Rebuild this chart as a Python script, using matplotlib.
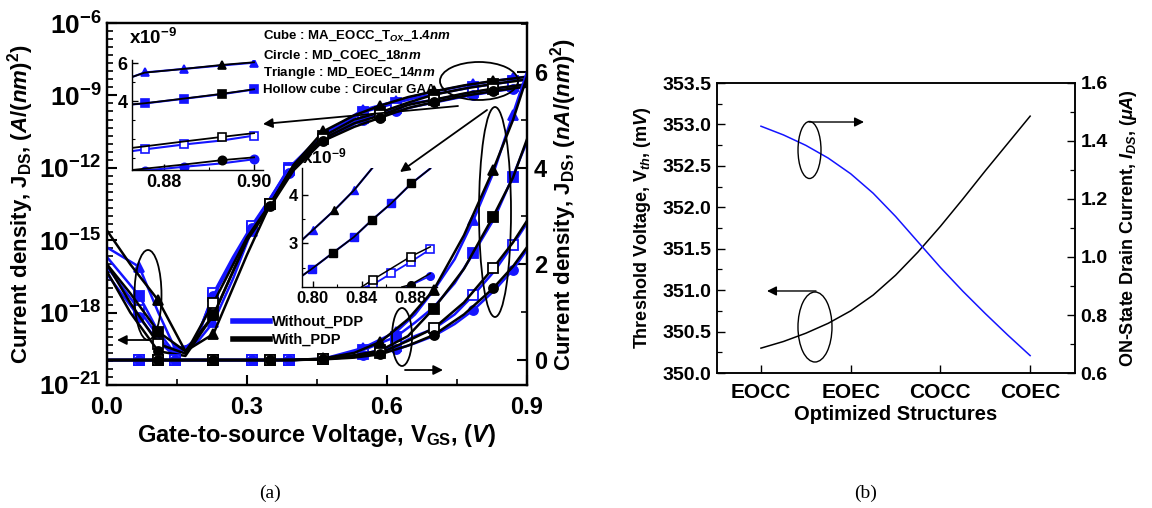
import numpy as np
import matplotlib
matplotlib.use("Agg")
import matplotlib.pyplot as plt
from matplotlib.lines import Line2D
from matplotlib.patches import Ellipse, FancyArrowPatch
from matplotlib.ticker import FixedLocator, MultipleLocator, FormatStrFormatter, NullFormatter

plt.rcParams.update({
    "font.family": "Liberation Sans",
    "font.weight": "bold",
    "axes.labelweight": "bold",
    "mathtext.fontset": "custom",
    "mathtext.rm": "Liberation Sans:bold",
    "mathtext.it": "Liberation Sans:bold:italic",
    "mathtext.bf": "Liberation Sans:bold",
    "xtick.direction": "in",
    "ytick.direction": "in",
})

BLUE = "#1414ff"

# ---------------- (a) transfer characteristics ----------------
# gate voltage grids (V)
vgs_wo = [0.0, 0.069, 0.11, 0.146, 0.19, 0.228, 0.27, 0.31, 0.39, 0.463,
          0.548, 0.62, 0.66, 0.70, 0.745, 0.785, 0.83, 0.869, 0.9]
vgs_w = [0.0, 0.05, 0.11, 0.168, 0.228, 0.30, 0.35, 0.40, 0.463,
         0.53, 0.586, 0.645, 0.70, 0.765, 0.827, 0.87, 0.9]
# voltages carrying a symbol
mark_wo = [0.069, 0.146, 0.228, 0.31, 0.39, 0.548, 0.62, 0.785, 0.869]
mark_w = [0.11, 0.228, 0.35, 0.463, 0.586, 0.70, 0.827]

# current density J_DS (A/nm^2), without PDP
j_tri_wo = [5.0e-16, 7.9e-17, 1.0e-18, 3.2e-20, 5.0e-20, 4.0e-19, 2.5e-17, 2.5e-15, 1.0e-12, 2.5e-11,
            2.5e-10, 5.9e-10, 9.5e-10, 1.45e-9, 2.1e-9, 2.91e-9, 3.95e-9, 5.1e-9, 6.0e-9]
j_cube_wo = [2.0e-16, 5.0e-18, 1.6e-19, 2.0e-20, 6.3e-20, 5.0e-18, 1.3e-16, 3.2e-15, 1.0e-12, 2.0e-11,
             2.0e-10, 4.9e-10, 7.8e-10, 1.1e-9, 1.6e-9, 2.22e-9, 2.95e-9, 3.81e-9, 4.55e-9]
j_hollow_wo = [7.9e-17, 1.3e-18, 1.0e-19, 1.6e-20, 6.3e-20, 6.3e-18, 2.0e-16, 4.0e-15, 7.9e-13, 1.6e-11,
               1.2e-10, 3.0e-10, 5.0e-10, 6.5e-10, 9.5e-10, 1.35e-9, 1.85e-9, 2.39e-9, 2.85e-9]
j_circ_wo = [4.0e-17, 6.3e-19, 6.3e-20, 1.6e-20, 7.9e-20, 5.0e-18, 1.6e-16, 3.2e-15, 6.3e-13, 1.3e-11,
             1.0e-10, 2.2e-10, 3.5e-10, 5.0e-10, 7.5e-10, 1.04e-9, 1.45e-9, 1.87e-9, 2.3e-9]

# current density J_DS (A/nm^2), with PDP
j_tri_w = [2.5e-15, 1.0e-16, 3.2e-18, 2.5e-20, 1.3e-19, 2.5e-16, 3.2e-14, 1.3e-12, 3.2e-11,
           1.5e-10, 3.8e-10, 8.5e-10, 1.46e-9, 2.6e-9, 3.95e-9, 5.0e-9, 5.9e-9]
j_cube_w = [1.0e-16, 6.3e-18, 1.6e-19, 2.5e-20, 7.9e-19, 1.0e-15, 3.2e-14, 1.3e-12, 2.0e-11,
            1.0e-10, 2.0e-10, 5.0e-10, 1.07e-9, 1.9e-9, 2.98e-9, 3.8e-9, 4.6e-9]
j_hollow_w = [1.0e-16, 2.5e-18, 5.0e-20, 2.0e-20, 2.5e-18, 1.3e-15, 3.2e-14, 1.0e-12, 1.6e-11,
              7.0e-11, 1.5e-10, 4.0e-10, 6.6e-10, 1.2e-9, 1.91e-9, 2.45e-9, 2.9e-9]
j_circ_w = [5.0e-17, 1.0e-18, 2.5e-20, 1.6e-20, 7.9e-19, 1.0e-15, 2.5e-14, 7.9e-13, 1.3e-11,
            5.0e-11, 1.2e-10, 3.0e-10, 5.2e-10, 9.5e-10, 1.49e-9, 1.95e-9, 2.35e-9]

# zoom near 0.9 V (x10^-9)
v_in1 = [0.8728, 0.8756, 0.8844, 0.8928, 0.900]
in1_tri_wo = [5.27, 5.51, 5.70, 5.88, 6.03]
in1_tri_w = [5.27, 5.50, 5.70, 5.91, 6.05]
in1_cube_wo = [3.82, 3.87, 4.12, 4.36, 4.61]
in1_cube_w = [3.82, 3.88, 4.13, 4.38, 4.62]
in1_hollow_wo = [1.35, 1.44, 1.70, 1.91, 2.17]
in1_hollow_w = [1.52, 1.60, 1.86, 2.10, 2.30]
in1_circ_wo = [0.25, 0.32, 0.52, 0.70, 0.92]
in1_circ_w = [0.35, 0.42, 0.64, 0.87, 1.02]

# zoom 0.80 - 0.90 V (x10^-9)
v_in2_tri = [0.7912, 0.8002, 0.8178, 0.8338, 0.8488]
in2_tri = [3.07, 3.28, 3.69, 4.10, 4.56]
v_in2_cube = [0.7912, 0.799, 0.8162, 0.8336, 0.8483, 0.8643, 0.8808, 0.8963]
in2_cube = [2.33, 2.47, 2.80, 3.13, 3.48, 3.83, 4.24, 4.55]
v_in2_hollow_w = [0.840, 0.8491, 0.8803, 0.8963]
in2_hollow_w = [2.10, 2.25, 2.73, 2.93]
v_in2_hollow_wo = [0.843, 0.8493, 0.8643, 0.8803, 0.8963]
in2_hollow_wo = [2.10, 2.15, 2.38, 2.62, 2.88]
v_in2_circ_w = [0.873, 0.8803, 0.8963]
in2_circ_w = [2.10, 2.15, 2.38]
v_in2_circ_wo = [0.877, 0.8963]
in2_circ_wo = [2.10, 2.33]

legend_text = ["Cube : MA_EOCC_T$_{\\mathit{OX}}$_1.4$\\mathit{nm}$",
               "Circle : MD_COEC_18$\\mathit{nm}$",
               "Triangle : MD_EOEC_14$\\mathit{nm}$",
               "Hollow cube : Circular GAA"]

# ---------------- (b) optimized structures ----------------
structures = ["EOCC", "EOEC", "COCC", "COEC"]
x_curve = [0, 0.25, 0.5, 0.75, 1.0, 1.25, 1.5, 1.75, 2.0, 2.25, 2.5, 2.75, 3.0]
vth_mv = [350.30, 350.38, 350.48, 350.60, 350.75, 350.94, 351.18, 351.46, 351.77,
          352.10, 352.44, 352.77, 353.10]
ion_ua = [1.451, 1.421, 1.385, 1.341, 1.287, 1.220, 1.140, 1.052, 0.964,
          0.882, 0.805, 0.731, 0.660]

W, H = 1152, 508
fig = plt.figure(figsize=(W / 100, H / 100), dpi=100)


def px_box(x0, y0, x1, y1):
    return [x0 / W, 1 - y1 / H, (x1 - x0) / W, (y1 - y0) / H]


ax = fig.add_axes(px_box(107, 23, 527, 385))
ax2 = ax.twinx()

groups = [
    ("^", False, j_tri_wo, j_tri_w),
    ("s", False, j_cube_wo, j_cube_w),
    ("s", True, j_hollow_wo, j_hollow_w),
    ("o", False, j_circ_wo, j_circ_w),
]
every_wo = np.isin(vgs_wo, mark_wo)
every_w = np.isin(vgs_w, mark_w)
for mk, hollow, jb, jk in groups:
    for axis, scale in ((ax, 1.0), (ax2, 1e9)):
        axis.plot(vgs_wo, np.array(jb) * scale, color=BLUE, lw=1.8, marker=mk, ms=6.5,
                  mfc="white" if hollow else BLUE, mec=BLUE, mew=1.3, markevery=every_wo)
for mk, hollow, jb, jk in groups:
    for axis, scale in ((ax, 1.0), (ax2, 1e9)):
        axis.plot(vgs_w, np.array(jk) * scale, color="black", lw=1.8, marker=mk, ms=6.5,
                  mfc="white" if hollow else "black", mec="black", mew=1.3, markevery=every_w)

ax.set_yscale("log")
ax.set_ylim(1e-21, 1e-6)
ax.set_xlim(0, 0.9)
ax.yaxis.set_major_locator(FixedLocator([10.0 ** k for k in range(-21, -5, 3)]))
ax.yaxis.set_minor_locator(FixedLocator(10.0 ** np.arange(-21, -6, 1 / 3)))
ax.yaxis.set_minor_formatter(NullFormatter())
ax.xaxis.set_major_locator(MultipleLocator(0.3))
ax.xaxis.set_minor_locator(MultipleLocator(0.15))
ax.xaxis.set_major_formatter(FormatStrFormatter("%.1f"))
ax2.set_ylim(-0.52, 7.02)
ax2.yaxis.set_major_locator(MultipleLocator(2))
ax2.yaxis.set_minor_locator(MultipleLocator(1))

for a in (ax, ax2):
    a.tick_params(which="major", length=7, width=1.5, labelsize=17, pad=5)
    a.tick_params(which="minor", length=4, width=1.2)
    for s in a.spines.values():
        s.set_linewidth(1.6)
ax.tick_params(axis="y", labelsize=19, pad=4)
ax.tick_params(axis="x", pad=8)

ax.set_xlabel("Gate-to-source Voltage, V$_{\\mathrm{GS}}$, ($\\mathit{V}$)", fontsize=17, labelpad=2)
ax.set_ylabel("Current density, J$_{\\mathrm{DS}}$, ($\\mathit{A/(nm)}^{2}$)", fontsize=16, labelpad=2)
ax2.set_ylabel("Current density, J$_{\\mathrm{DS}}$, ($\\mathit{nA/(nm)}^{2}$)", fontsize=16, labelpad=1)

for i, txt in enumerate(legend_text):
    ax.text(0.372, 0.965 - i * 0.047 - (0.008 if i else 0), txt, transform=ax.transAxes,
            fontsize=9.5, va="center", ha="left")

handles = [Line2D([], [], color=BLUE, lw=4), Line2D([], [], color="black", lw=4)]
ax.legend(handles, ["Without_PDP", "With_PDP"], loc="upper left", bbox_to_anchor=(0.285, 0.21),
          frameon=False, fontsize=10.5, handlelength=2.6, handletextpad=0.1, labelspacing=0.3,
          borderaxespad=0)

# circled groups with pointing arrows (axes fractions)
def ring(axis, cx, cy, w, h, lw=1.3):
    axis.add_patch(Ellipse((cx, cy), w, h, transform=axis.transAxes, fill=False,
                           ec="black", lw=lw, zorder=10, clip_on=False))


def pointer(axis, start, end, lw=1.3):
    axis.add_patch(FancyArrowPatch(start, end, transform=axis.transAxes, arrowstyle="-|>",
                                   mutation_scale=14, color="black", lw=lw, zorder=10,
                                   shrinkA=0, shrinkB=0, clip_on=False))


ring(ax2, 0.0976, 0.2486, 0.0643, 0.2486)
pointer(ax2, (0.1024, 0.1243), (0.0238, 0.1243))
ring(ax2, 0.8857, 0.8398, 0.1857, 0.105)
pointer(ax2, (0.8357, 0.7707), (0.3714, 0.721))
ring(ax2, 0.9238, 0.4779, 0.0762, 0.5801)
pointer(ax2, (0.9048, 0.7597), (0.6976, 0.5884))
ring(ax2, 0.7024, 0.1326, 0.0476, 0.1602)
pointer(ax2, (0.7095, 0.0414), (0.80, 0.0414))

# inset near 0.9 V
ins1 = fig.add_axes(px_box(132, 60, 263, 170), zorder=5)
ins1.patch.set_visible(False)
in1_sets = [("^", False, in1_tri_wo, in1_tri_w), ("s", False, in1_cube_wo, in1_cube_w),
            ("s", True, in1_hollow_wo, in1_hollow_w), ("o", False, in1_circ_wo, in1_circ_w)]
for mk, hollow, yb, yk in in1_sets:
    ins1.plot(v_in1, yb, color=BLUE, lw=1.5, marker=mk, ms=6, mfc="white" if hollow else BLUE,
              mec=BLUE, mew=1.2, markevery=[1, 2, 4])
    ins1.plot(v_in1, yk, color="black", lw=1.3, marker=mk, ms=6, mfc="white" if hollow else "black",
              mec="black", mew=1.2, markevery=[3])
ins1.set_xlim(0.8728, 0.902)
ins1.set_ylim(0.35, 6.17)
ins1.xaxis.set_major_locator(FixedLocator([0.88, 0.90]))
ins1.xaxis.set_minor_locator(FixedLocator([0.89]))
ins1.xaxis.set_major_formatter(FormatStrFormatter("%.2f"))
ins1.yaxis.set_major_locator(FixedLocator([4, 6]))
ins1.yaxis.set_minor_locator(FixedLocator([1, 2, 3, 5]))
ins1.text(-0.02, 1.2, "x10$^{-9}$", transform=ins1.transAxes, fontsize=13.5, ha="left", va="center")

# inset 0.80 - 0.90 V
ins2 = fig.add_axes(px_box(302, 168, 437, 287), zorder=5)
ins2.patch.set_visible(False)
ins2.plot(v_in2_tri, in2_tri, color=BLUE, lw=1.5, marker="^", ms=6, mfc=BLUE, mec=BLUE, markevery=[1, 3])
ins2.plot(v_in2_tri, in2_tri, color="black", lw=1.2, marker="^", ms=6, mfc="black", mec="black", markevery=[2])
ins2.plot(v_in2_cube, in2_cube, color=BLUE, lw=1.5, marker="s", ms=5.5, mfc=BLUE, mec=BLUE, markevery=[1, 3, 5])
ins2.plot(v_in2_cube, in2_cube, color="black", lw=1.2, marker="s", ms=5.5, mfc="black", mec="black", markevery=[2, 4, 6])
ins2.plot(v_in2_hollow_wo, in2_hollow_wo, color=BLUE, lw=1.3, marker="s", ms=5.5, mfc="white", mec=BLUE,
          mew=1.2, markevery=[1, 2, 3, 4])
ins2.plot(v_in2_hollow_w, in2_hollow_w, color="black", lw=1.1, marker="s", ms=5.5, mfc="white", mec="black",
          mew=1.2, markevery=[1, 2])
ins2.plot(v_in2_circ_wo, in2_circ_wo, color=BLUE, lw=1.3, marker="o", ms=5.5, mfc=BLUE, mec=BLUE, markevery=[1])
ins2.plot(v_in2_circ_w, in2_circ_w, color="black", lw=1.1, marker="o", ms=5.5, mfc="black", mec="black", markevery=[1])
ins2.set_xlim(0.7912, 0.9018)
ins2.set_ylim(2.10, 4.56)
ins2.xaxis.set_major_locator(FixedLocator([0.80, 0.84, 0.88]))
ins2.xaxis.set_minor_locator(FixedLocator([0.82, 0.86]))
ins2.xaxis.set_major_formatter(FormatStrFormatter("%.2f"))
ins2.yaxis.set_major_locator(FixedLocator([3, 4]))
ins2.yaxis.set_minor_locator(FixedLocator([2.5, 3.5]))
ins2.text(0.0, 1.1, "x10$^{-9}$", transform=ins2.transAxes, fontsize=12.5, ha="left", va="center")

for a, fs in ((ins1, 13), (ins2, 12)):
    a.spines["top"].set_visible(False)
    a.spines["right"].set_visible(False)
    for s in ("left", "bottom"):
        a.spines[s].set_linewidth(1.0)
    a.tick_params(which="major", length=4, width=1.0, labelsize=fs, pad=3)
    a.tick_params(which="minor", length=2.5, width=0.8)

# ---------------- panel (b) ----------------
axb = fig.add_axes(px_box(717, 83, 1075, 373))
axb2 = axb.twinx()
axb.plot(x_curve, vth_mv, color="black", lw=1.1)
axb2.plot(x_curve, ion_ua, color=BLUE, lw=1.1)
axb.set_xlim(-0.49, 3.5)
axb.set_ylim(350.0, 353.5)
axb2.set_ylim(0.6, 1.6)
axb.set_xticks(range(len(structures)))
axb.set_xticklabels(structures)
axb.yaxis.set_major_locator(MultipleLocator(0.5))
axb.yaxis.set_minor_locator(MultipleLocator(0.25))
axb.yaxis.set_major_formatter(FormatStrFormatter("%.1f"))
axb2.yaxis.set_major_locator(MultipleLocator(0.2))
axb2.yaxis.set_minor_locator(MultipleLocator(0.1))
axb2.yaxis.set_major_formatter(FormatStrFormatter("%.1f"))
for a in (axb, axb2):
    a.tick_params(which="major", length=6, width=1.0, labelsize=14, pad=4)
    a.tick_params(which="minor", length=3.5, width=0.9)
    for s in a.spines.values():
        s.set_linewidth(1.1)
axb.tick_params(axis="x", labelsize=15, pad=7)
axb.set_xlabel("Optimized Structures", fontsize=14.5, labelpad=2)
axb.set_ylabel("Threshold Voltage, V$_{\\mathit{th}}$, (m$\\mathit{V}$)", fontsize=13, labelpad=7)
axb2.set_ylabel("ON-State Drain Current, $\\mathit{I}_{\\mathit{DS}}$, ($\\mathit{\\mu A}$)", fontsize=13, labelpad=7)

ring(axb2, 0.2584, 0.769, 0.0642, 0.1966, lw=1.0)
pointer(axb2, (0.257, 0.8655), (0.4106, 0.8655), lw=1.0)
ring(axb2, 0.2737, 0.1586, 0.095, 0.2414, lw=1.0)
pointer(axb2, (0.2765, 0.2828), (0.1397, 0.2828), lw=1.0)

fig.text(270 / W, 1 - 493 / H, "(a)", family="Liberation Serif", weight="normal", fontsize=14,
         ha="center", va="center")
fig.text(866 / W, 1 - 493 / H, "(b)", family="Liberation Serif", weight="normal", fontsize=14,
         ha="center", va="center")

fig.savefig("out.png", dpi=100)
